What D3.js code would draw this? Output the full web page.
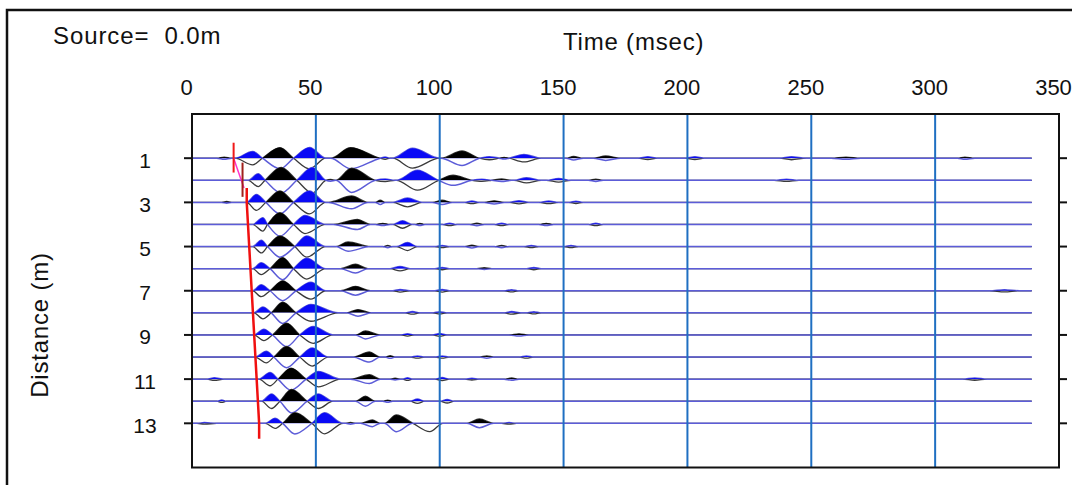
<!DOCTYPE html>
<html><head><meta charset="utf-8">
<script src="https://cdn.jsdelivr.net/npm/d3@7"></script>
<style>body{margin:0;background:#fff}svg{display:block}text{font-family:"Liberation Sans",Arial,sans-serif;fill:#111}</style>
</head><body>
<svg id="c" width="1072" height="485"></svg>
<script>
// ---- data ----
const timeTicks = [0, 50, 100, 150, 200, 250, 300, 350];
const distTicks = [1, 3, 5, 7, 9, 11, 13];
const distances = [1,2,3,4,5,6,7,8,9,10,11,12,13];
const sourceLabel = "Source=  0.0m";
const xTitle = "Time (msec)";
const yTitle = "Distance (m)";
const traceEnd = 339;
// first-break picks (ms) per trace
const picks = [16.8, 20.4, 22.1, 22.6, 23.1, 23.6, 24.1, 24.6, 25.1, 25.6, 26.1, 26.6, 27.1];
// lobes per trace: [start ms, peak ms, end ms, amplitude (trace units, + = black up, - = blue up), blue mirror]
const trace1 = [[10,13,16,0.05],[17.3,24.5,28.4,-0.3],[28.4,35.5,41,0.48],[41,47.5,54,-0.48],[56,64,76,0.48],[76,78,80,-0.05],[81,89,100,-0.45],[100.5,109,116,0.33],[116,120,124,-0.07],[124,126,128,0.04],[128,134,141,-0.17],[151,154,158,0.08],[162,167,173,0.1],[180,184,188,-0.06],[199,203,207,-0.06],[237,242,248,-0.07],[258,264,270,0.05],[309,312,316,0.05]];
const trace2 = [[22.7,26.7,29.5,-0.29],[29.5,36,42.3,0.58],[42.3,48.6,54,-0.58],[54,56,58,0.04],[58,64.4,74,0.55],[74,78,82,-0.06],[82.5,91,99.5,-0.45],[99.5,105.4,113,0.23],[113,117,121,-0.05],[121,125,129,0.06],[130,135,141,-0.12],[143,148,153,-0.08],[160,163,166,0.05],[235,240,245,-0.05]];
const trace3 = [[12,14,16,0.04],[22,26,29.8,-0.36],[29.8,35.5,41,0.52],[41,47.4,54,-0.52],[55,64.4,71,0.29],[74,76,78,0.1],[81,87,93,-0.2],[97,101,105,0.1],[110,113,116,-0.06],[118,122,126,0.07],[128,132,136,-0.07],[140,144,148,-0.06],[152,155,158,-0.05]];
const trace4 = [[24.5,28.6,30.5,-0.3],[30.5,35.5,41,0.53],[41,45.6,54,-0.41],[57,66.8,72,0.23],[74,77,80,0.05],[81,85,89,-0.17],[90,92,94,0.05],[101,104,107,-0.05],[112,115,118,0.06],[122,125,128,-0.05],[140,143,146,0.05],[160,163,166,-0.05]];
const trace5 = [[24.5,28,30.5,-0.29],[30.5,35.5,41.5,0.48],[41.5,46.3,54,-0.48],[58,63,72,0.21],[77,79,81,0.05],[82.5,87,91,-0.18],[98,101,104,-0.05],[110,113,116,0.06],[122,125,128,0.05],[134,137,140,-0.05],[150,153,156,-0.05]];
const trace6 = [[24.5,27.9,31.5,-0.27],[31.5,36.6,41,0.5],[41,46.3,54,-0.47],[60,66,71,0.2],[80,84,88,-0.1],[98,101,104,-0.05],[115,118,121,0.04],[135,138,141,-0.05]];
const trace7 = [[24.5,27.9,31.5,-0.27],[31.5,36.6,42,0.45],[42,48,54,-0.38],[60,66,72,0.2],[81,84,88,-0.06],[98,101,104,-0.06],[126,129,132,-0.05],[322,328,334,-0.05]];
const trace8 = [[25,28.6,32,-0.27],[32,36.6,42,0.48],[42,48,59,-0.38],[62.4,67,72.4,0.15],[86,89,92,-0.06],[97,100,103,-0.05],[126,129,133,-0.06],[135,138,141,-0.05]];
const trace9 = [[25,29,32.5,-0.26],[32.5,38.2,43.5,0.53],[43.5,48.9,57,-0.38],[66,70,76,0.18],[84,87,90,-0.05],[97,100,103,-0.06],[128,132,136,0.05]];
const trace10 = [[25.5,30,33,-0.26],[33,38.2,43.5,0.48],[43.5,48.5,55,-0.41],[65,71.6,76,0.23],[78,80,82,0.06],[88,91,94,-0.05],[98,101,104,-0.05],[116,119,122,0.05],[132,135,138,-0.05]];
const trace11 = [[6,9,13,-0.06],[27,31.5,34.7,-0.3],[34.7,40,46.1,0.5],[46.1,51,60,-0.35],[64,71.6,76,0.2],[80,82,84,0.04],[85,87,89,-0.06],[98,101,104,-0.07],[110,113,116,-0.04],[126,129,132,0.05],[311,316,321,-0.05]];
const trace12 = [[10,12,14,-0.05],[28,32.1,35.5,-0.33],[35.5,40.2,46.5,0.53],[46.5,51,57,-0.33],[66,70,74,0.23],[77,79,81,0.05],[88,91,94,-0.1],[100,103,106,-0.08]];
const trace13 = [[2,5,10,-0.04],[29.6,33.5,36.6,-0.23],[36.6,41.5,48.4,0.48],[48.4,53.5,61,-0.48],[62,64,66,0.04],[68,72.8,76,0.15],[77.6,82.5,89.2,0.38],[89.2,96,101.3,-0.38,0],[111,116,121.8,0.2],[125,128,131,-0.04]];
const traces = [trace1,trace2,trace3,trace4,trace5,trace6,trace7,trace8,trace9,trace10,trace11,trace12,trace13];

// ---- drawing ----
const svg = d3.select("#c");
const x = d3.scaleLinear().domain([0, 350]).range([192, 1059]);
const y = d3.scaleLinear().domain([-1, 15]).range([114, 467.5]);

// outer frame
svg.append("rect").attr("x", 7).attr("y", 10).attr("width", 1100).attr("height", 520)
  .attr("fill", "none").attr("stroke", "#111").attr("stroke-width", 2.5);

svg.append("text").attr("x", 53).attr("y", 44).style("font-size", "24px").style("letter-spacing", "0.9px")
  .style("white-space", "pre").text(sourceLabel);
svg.append("text").attr("x", 563).attr("y", 50).style("font-size", "24px").style("letter-spacing", "0.8px").text(xTitle);
svg.append("text").attr("transform", "translate(48,325) rotate(-90)").attr("text-anchor", "middle")
  .style("font-size", "24px").style("letter-spacing", "0.8px").text(yTitle);

// x tick labels (top)
svg.append("g").selectAll("text").data(timeTicks).join("text")
  .attr("x", d => x(d) - 5.5).attr("y", 95).attr("text-anchor", "middle")
  .style("font-size", "22px").text(d => d);

// y tick labels & ticks
svg.append("g").selectAll("text").data(distTicks).join("text")
  .attr("x", 145).attr("y", d => y(d)).attr("dy", "0.45em").attr("text-anchor", "middle")
  .style("font-size", "21px").text(d => d);
const tk = svg.append("g").attr("stroke", "#111").attr("stroke-width", 2);
tk.selectAll("line.l").data(distTicks).join("line").attr("class", "l")
  .attr("x1", x(0) - 8).attr("x2", x(0)).attr("y1", d => y(d)).attr("y2", d => y(d));
tk.selectAll("line.r").data(distTicks).join("line").attr("class", "r")
  .attr("x1", x(350)).attr("x2", x(350) + 8).attr("y1", d => y(d)).attr("y2", d => y(d));

// traces
const defs = svg.append("defs");
function buildPts(lobes, mirror) {
  const pts = [[0, 0]];
  for (const l of lobes) {
    const f = mirror ? -(l[4] === undefined ? 1 : l[4]) : 1;
    const last = pts[pts.length - 1][0];
    if (l[0] > last + 1e-6) pts.push([l[0], 0]);
    pts.push([l[1], l[3] * f]);
    pts.push([l[2], 0]);
  }
  pts.push([traceEnd, 0]);
  return pts;
}
const tg = svg.append("g");
traces.forEach((lobes, i) => {
  const k = distances[i];
  const line = d3.line().x(d => x(d[0])).y(d => y(k - d[1])).curve(d3.curveMonotoneX);
  const area = d3.area().x(d => x(d[0])).y0(y(k)).y1(d => y(k - d[1])).curve(d3.curveMonotoneX);
  const a = buildPts(lobes, false), b = buildPts(lobes, true);
  const cid = "clip" + k;
  defs.append("clipPath").attr("id", cid).append("rect")
    .attr("x", x(0)).attr("y", y(k - 1)).attr("width", x(traceEnd) - x(0)).attr("height", y(k) - y(k - 1));
  const g = tg.append("g");
  g.append("path").attr("d", line(a)).attr("fill", "none").attr("stroke", "#3a3a3a").attr("stroke-width", 1.3);
  g.append("path").attr("d", line(b)).attr("fill", "none").attr("stroke", "#5c5cd8").attr("stroke-width", 1.5);
  g.append("path").attr("d", area(a)).attr("fill", "#000").attr("clip-path", `url(#${cid})`);
  g.append("path").attr("d", area(b)).attr("fill", "#0a0af5").attr("clip-path", `url(#${cid})`);
});

// grid lines
svg.append("g").selectAll("line").data(timeTicks.filter(d => d > 0 && d < 350)).join("line")
  .attr("x1", d => x(d)).attr("x2", d => x(d)).attr("y1", y(-1)).attr("y2", y(15))
  .attr("stroke", "#1f6fc2").attr("stroke-width", 2);

// picks
const pl = d3.line().x(d => x(d[0])).y(d => y(d[1]));
svg.append("path").attr("d", pl([[picks[0], 1], [picks[1] + 0.6, 2.35]]))
  .attr("stroke", "#ff33cc").attr("stroke-width", 1.5).attr("fill", "none");
svg.append("path").attr("d", pl([[picks[0], 0.3], [picks[0], 1.65]]))
  .attr("stroke", "#f01818").attr("stroke-width", 2).attr("fill", "none");
svg.append("path").attr("d", pl([[picks[1], 1.2], [picks[1], 2.75]]))
  .attr("stroke", "#a0201c").attr("stroke-width", 2).attr("fill", "none");
const redPts = [[picks[2], 2.35]];
for (let i = 2; i < picks.length; i++) redPts.push([picks[i], distances[i]]);
redPts.push([picks[picks.length - 1], 13.7]);
svg.append("path").attr("d", pl(redPts)).attr("stroke", "#f01010").attr("stroke-width", 2.5).attr("fill", "none");

// plot frame
svg.append("rect").attr("x", x(0)).attr("y", y(-1)).attr("width", x(350) - x(0)).attr("height", y(15) - y(-1))
  .attr("fill", "none").attr("stroke", "#111").attr("stroke-width", 2);
</script>
</body></html>
